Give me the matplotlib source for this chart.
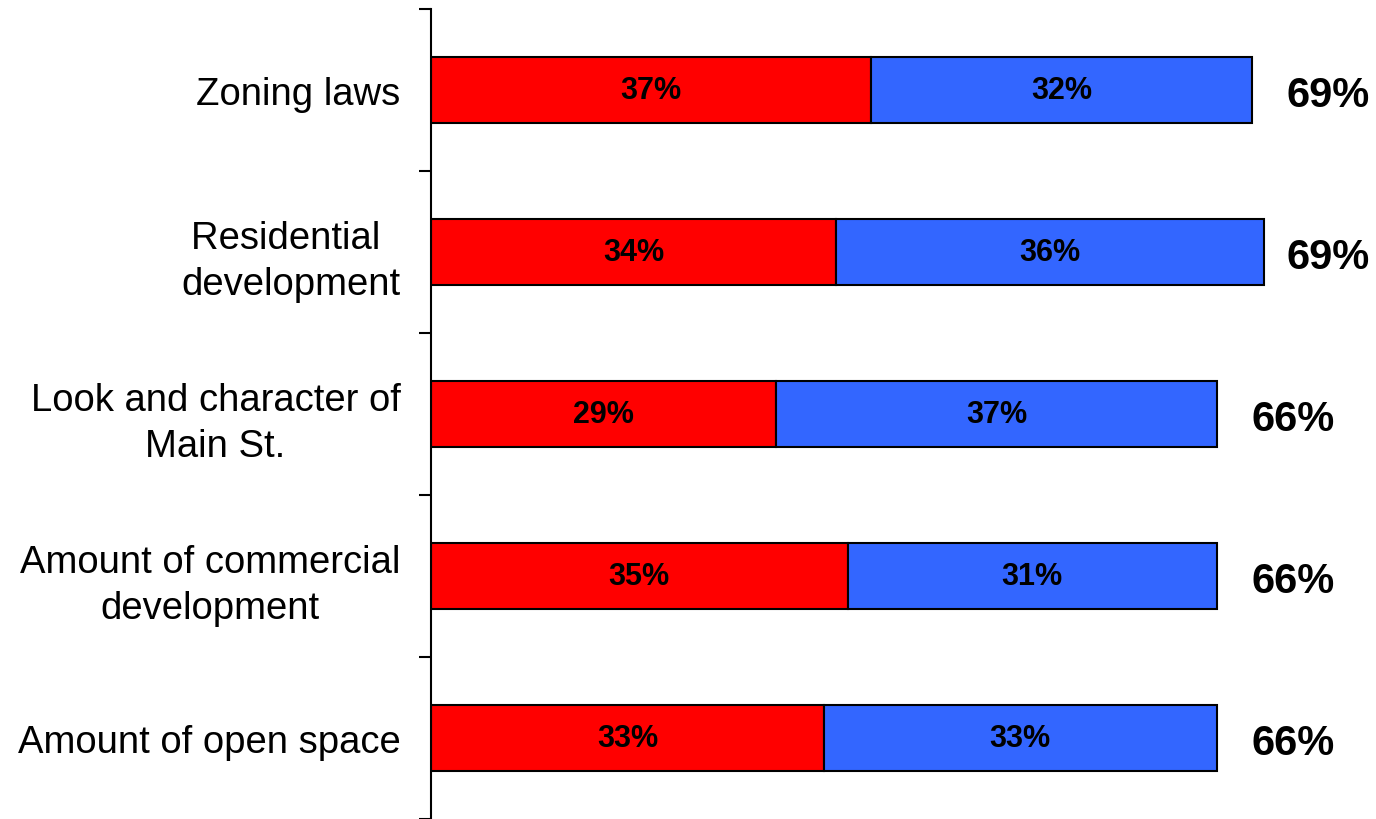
import matplotlib.pyplot as plt

# categories (top to bottom) and values
categories = ['Zoning laws', 'Residential \ndevelopment', 'Look and character of\nMain St.',
              'Amount of commercial\ndevelopment', 'Amount of open space']
red_vals = [37, 34, 29, 35, 33]
blue_vals = [32, 36, 37, 31, 33]
totals = [69, 69, 66, 66, 66]

plt.rcParams['font.family'] = ['Liberation Sans', 'DejaVu Sans']

fig = plt.figure(figsize=(13.76, 8.2), dpi=100)
ax = fig.add_axes([431 / 1376, 0, 1 - 431 / 1376, 810 / 820])

y = list(range(len(categories)))
ax.barh(y, red_vals, height=0.41, color='#FF0000', edgecolor='black', linewidth=1.5)
ax.barh(y, blue_vals, left=red_vals, height=0.41, color='#3366FF', edgecolor='black', linewidth=1.5)

# segment labels
for i in y:
    ax.text(red_vals[i] / 2, i, '{}%'.format(red_vals[i]), ha='center', va='center',
            fontsize=22, fontweight='bold')
    ax.text(red_vals[i] + blue_vals[i] / 2, i, '{}%'.format(blue_vals[i]), ha='center',
            va='center', fontsize=22, fontweight='bold')
    ax.text(totals[i] + 2.9, i + 0.03, '{}%'.format(totals[i]), ha='left', va='center',
            fontsize=30, fontweight='bold')

ax.set_xlim(0, 79.4)
ax.set_ylim(4.5, -0.5)

ax.set_yticks(y)
ax.set_yticklabels(categories, fontsize=27.5, multialignment='center', linespacing=1.35)
ax.tick_params(axis='y', which='major', length=0, pad=22)
ax.set_yticks([-0.5, 0.5, 1.5, 2.5, 3.5, 4.5], minor=True)
ax.tick_params(axis='y', which='minor', length=9, width=1.5, direction='out')
ax.set_xticks([])

for s in ['top', 'right', 'bottom']:
    ax.spines[s].set_visible(False)
ax.spines['left'].set_linewidth(1.5)

fig.savefig('out.png', dpi=100)
